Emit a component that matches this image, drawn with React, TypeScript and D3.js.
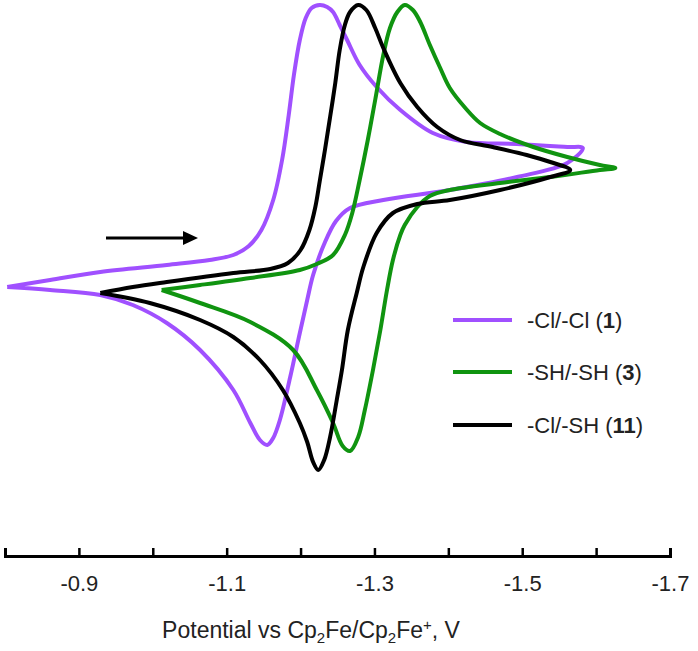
import * as d3 from "d3";
import { useRef, useEffect } from "react";

// potentials (V vs Cp2Fe/Cp2Fe+) and currents (arb. units), scan order
const clclE = [-0.803, -0.861, -0.929, -1.019, -1.077, -1.109, -1.13, -1.147, -1.163, -1.175, -1.184, -1.191, -1.199, -1.207, -1.215, -1.226, -1.236, -1.244, -1.253, -1.263, -1.28, -1.303, -1.335, -1.379, -1.425, -1.493, -1.561, -1.582,
    -1.561, -1.493, -1.402, -1.312, -1.267, -1.248, -1.232, -1.217, -1.209, -1.199, -1.186, -1.172, -1.163, -1.155, -1.145, -1.132, -1.109, -1.064, -1.019, -0.973, -0.929, -0.861, -0.803];
const clclI = [-3.7, -3.0, -2.2, -1.5, -1.0, -0.5, 0.4, 2.0, 5.0, 9.0, 13.5, 17.5, 21.0, 23.2, 24.2, 24.5, 24.3, 23.8, 22.5, 21.0, 18.5, 16.3, 14.0, 11.7, 10.8, 10.6, 10.3, 10.2,
    8.7, 7.3, 6.0, 5.0, 4.2, 2.9, 0.6, -2.5, -5.0, -8.3, -12.7, -17.0, -18.8, -19.5, -19.0, -17.3, -14.0, -10.0, -7.3, -5.5, -4.5, -4.0, -3.7];

const shshE = [-1.012, -1.064, -1.132, -1.199, -1.222, -1.244, -1.26, -1.27, -1.28, -1.291, -1.301, -1.312, -1.321, -1.331, -1.341, -1.352, -1.362, -1.375, -1.389, -1.402, -1.423, -1.443, -1.47, -1.515, -1.561, -1.605, -1.626,
    -1.605, -1.538, -1.47, -1.402, -1.375, -1.358, -1.341, -1.335, -1.325, -1.317, -1.308, -1.298, -1.287, -1.278, -1.267, -1.257, -1.244, -1.222, -1.19, -1.132, -1.064, -1.012];
const shshI = [-4.0, -3.5, -2.8, -2.0, -1.4, -0.5, 1.5, 3.7, 7.0, 11.0, 15.0, 19.5, 22.2, 23.8, 24.5, 24.0, 22.8, 20.5, 18.2, 16.2, 14.2, 12.7, 11.6, 10.3, 9.3, 8.5, 8.2,
    8.0, 7.3, 6.7, 6.0, 5.4, 4.3, 2.5, 1.5, -1.0, -4.0, -8.0, -12.0, -16.0, -18.7, -20.1, -19.6, -17.3, -14.0, -10.0, -7.2, -5.3, -4.0];

const clshE = [-0.929, -0.973, -1.019, -1.109, -1.159, -1.183, -1.2, -1.212, -1.22, -1.226, -1.233, -1.24, -1.247, -1.253, -1.26, -1.267, -1.278, -1.289, -1.301, -1.312, -1.335, -1.358, -1.385, -1.416, -1.46, -1.506, -1.538, -1.565,
    -1.538, -1.47, -1.402, -1.358, -1.325, -1.303, -1.285, -1.276, -1.264, -1.256, -1.249, -1.24, -1.232, -1.224, -1.217, -1.209, -1.199, -1.176, -1.145, -1.109, -1.064, -0.996, -0.929];
const clshI = [-4.3, -3.7, -3.2, -2.3, -1.9, -1.3, 0.0, 2.0, 4.3, 6.9, 10.0, 13.3, 16.7, 20.0, 22.5, 23.8, 24.5, 24.0, 22.2, 20.2, 16.7, 14.3, 12.3, 11.0, 10.3, 9.5, 8.8, 8.0,
    7.3, 6.0, 5.0, 4.6, 3.7, 1.7, -1.7, -4.3, -8.0, -12.0, -15.0, -18.7, -21.0, -22.0, -21.2, -19.2, -17.3, -14.0, -11.0, -8.7, -7.0, -5.3, -4.3];

const seriesNames = ["-Cl/-Cl", "-SH/-SH", "-Cl/-SH"];
const seriesIds = ["1", "3", "11"];
const seriesColors = ["#a050ff", "#109410", "#000000"];
const xTicks = [-0.8, -0.9, -1.0, -1.1, -1.2, -1.3, -1.4, -1.5, -1.6, -1.7];
const xLabels = [-0.9, -1.1, -1.3, -1.5, -1.7];

export default function App() {
    const width = 698;
    const height = 651;
    const axisY = 556;
    const font = "Liberation Sans, Arial, sans-serif";
    const gx = useRef<SVGGElement>(null);

    const x = d3.scaleLinear([-0.8, -1.7], [5, 670]);
    const y = d3.scaleLinear([-25, 25], [500, 0]);

    const series = [
        { E: clclE, I: clclI },
        { E: shshE, I: shshI },
        { E: clshE, I: clshI },
    ];
    const line = d3.line<[number, number]>()
        .x(d => x(d[0]))
        .y(d => y(d[1]))
        .curve(d3.curveCatmullRom.alpha(0.5));

    useEffect(() => {
        if (!gx.current) return;
        const g = d3.select(gx.current);
        g.selectAll("*").remove();
        g.call(
            d3.axisBottom(x)
                .tickValues(xTicks)
                .tickSizeInner(-8)
                .tickSizeOuter(-8)
                .tickPadding(19)
                .tickFormat(d => (xLabels.some(v => Math.abs(v - (d as number)) < 1e-9) ? d3.format(".1f")(d as number) : ""))
        );
        g.attr("font-family", font).attr("font-size", 22);
        g.select(".domain").attr("stroke", "#000").attr("stroke-width", 3).attr("fill", "none");
        g.selectAll(".tick line").attr("stroke", "#000").attr("stroke-width", 2.5);
        g.selectAll(".tick text").attr("fill", "#222").text(function () {
            return d3.select(this).text().replace("−", "-");
        });
    }, [x]);

    const legendX = 453;
    const legendY = [320, 372, 425];

    return (
        <svg width={width} height={height} style={{ position: "absolute", left: 0, top: 0, background: "#fff" }}>
            <rect width={width} height={height} fill="#fff" />
            {series.map((s, i) => (
                <path key={i} fill="none" stroke={seriesColors[i]} strokeWidth={4} strokeLinejoin="round"
                    d={line(s.E.map((e, j) => [e, s.I[j]] as [number, number])) ?? ""} />
            ))}
            {/* scan direction arrow */}
            <g stroke="#000" fill="#000">
                <line x1={106} y1={238} x2={186} y2={238} strokeWidth={3} />
                <path d="M183,231 L198,238 L183,245 Z" stroke="none" />
            </g>
            <g fontFamily={font} fontSize={22} fill="#222">
                {seriesNames.map((n, i) => (
                    <g key={n}>
                        <line x1={legendX} x2={legendX + 59} y1={legendY[i]} y2={legendY[i]} stroke={seriesColors[i]} strokeWidth={4} />
                        <text x={legendX + 74} y={legendY[i] + 8}>
                            {n} (<tspan fontWeight="bold">{seriesIds[i]}</tspan>)
                        </text>
                    </g>
                ))}
            </g>
            <g ref={gx} transform={`translate(0,${axisY})`} />
            <text x={311} y={638} textAnchor="middle" fontFamily={font} fontSize={23} fill="#222">
                Potential vs Cp<tspan fontSize={15} dy={5}>2</tspan><tspan dy={-5}>Fe/Cp</tspan><tspan fontSize={15} dy={5}>2</tspan><tspan dy={-5}>Fe</tspan><tspan fontSize={15} dy={-8}>+</tspan><tspan dy={8}>, V</tspan>
            </text>
        </svg>
    );
}
